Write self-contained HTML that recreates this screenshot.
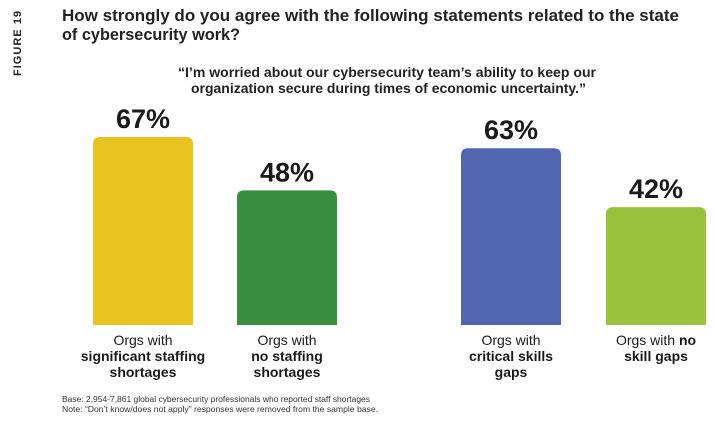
<!DOCTYPE html>
<html><head><meta charset="utf-8"><style>
html,body{margin:0;padding:0;background:#fff;}
svg{display:block;font-family:"Liberation Sans",sans-serif;}
</style></head><body>
<svg id="chart" width="714" height="433" viewBox="0 0 714 433">
<text transform="translate(21,76) rotate(-90)" font-size="11" font-weight="bold" fill="#222" textLength="66" lengthAdjust="spacingAndGlyphs" letter-spacing="1">FIGURE 19</text>
<text x="62" y="21" font-size="17" font-weight="bold" fill="#222" textLength="617" lengthAdjust="spacingAndGlyphs">How strongly do you agree with the following statements related to the state</text>
<text x="62" y="40" font-size="17" font-weight="bold" fill="#222" textLength="178" lengthAdjust="spacingAndGlyphs">of cybersecurity work?</text>
<text x="178" y="77" font-size="14" font-weight="bold" fill="#222" textLength="418" lengthAdjust="spacingAndGlyphs">“I’m worried about our cybersecurity team’s ability to keep our</text>
<text x="191" y="93" font-size="14" font-weight="bold" fill="#222" textLength="395" lengthAdjust="spacingAndGlyphs">organization secure during times of economic uncertainty.”</text>
<g id="bars"></g>
<text x="62" y="402" font-size="8" fill="#333" textLength="308" lengthAdjust="spacingAndGlyphs">Base: 2,954-7,861 global cybersecurity professionals who reported staff shortages</text>
<text x="62" y="412" font-size="8" fill="#333" textLength="316" lengthAdjust="spacingAndGlyphs">Note: “Don’t know/does not apply” responses were removed from the sample base.</text>
</svg>
<script>
const categories = ["significant-staffing-shortages","no-staffing-shortages","critical-skills-gaps","no-skill-gaps"];
const values = [67, 48, 63, 42];
const colors = ["#E9C31F","#3A8F3F","#5266AF","#9BC23C"];
const labelLines = [
  [["Orgs with",""],["significant staffing","b"],["shortages","b"]],
  [["Orgs with",""],["no staffing","b"],["shortages","b"]],
  [["Orgs with",""],["critical skills","b"],["gaps","b"]],
  [["Orgs with ",""],["no","b"],["skill gaps","b"]]
];
const NS="http://www.w3.org/2000/svg";
const g=document.getElementById('bars');
const baseY=325, scale=188/67, barW=100;
const xPos=i=>[93,237,461,606][i];
const y=v=>baseY-v*scale;
function mk(t,a){const e=document.createElementNS(NS,t);for(const k in a)e.setAttribute(k,a[k]);return e;}
values.forEach((v,i)=>{
  const x=xPos(i), top=y(v), r=7;
  const p=mk('path',{d:`M${x},${baseY}V${top+r}Q${x},${top} ${x+r},${top}H${x+barW-r}Q${x+barW},${top} ${x+barW},${top+r}V${baseY}Z`,fill:colors[i]});
  
  
  g.appendChild(p);
  const t=mk('text',{x:x+barW/2,y:top-9,'text-anchor':'middle','font-size':27,'font-weight':'bold',fill:'#1a1a1a'});
  t.textContent=v+'%';
  
  
  g.appendChild(t);
  const lines=labelLines[i];
  const lbl=mk('text',{'text-anchor':'middle','font-size':14,fill:'#1a1a1a'});
  
  
  if(i===3){
    const s1=mk('tspan',{x:x+barW/2,y:345});s1.textContent='Orgs with ';
    const s2=mk('tspan',{'font-weight':'bold'});s2.textContent='no';
    const s3=mk('tspan',{x:x+barW/2,y:361,'font-weight':'bold'});s3.textContent='skill gaps';
    lbl.appendChild(s1);lbl.appendChild(s2);lbl.appendChild(s3);
  } else {
    lines.forEach((ln,j)=>{
      const s=mk('tspan',{x:x+barW/2,y:345+j*16});
      if(ln[1]==='b')s.setAttribute('font-weight','bold');
      s.textContent=ln[0];lbl.appendChild(s);
    });
  }
  g.appendChild(lbl);
});
</script>
</body></html>
